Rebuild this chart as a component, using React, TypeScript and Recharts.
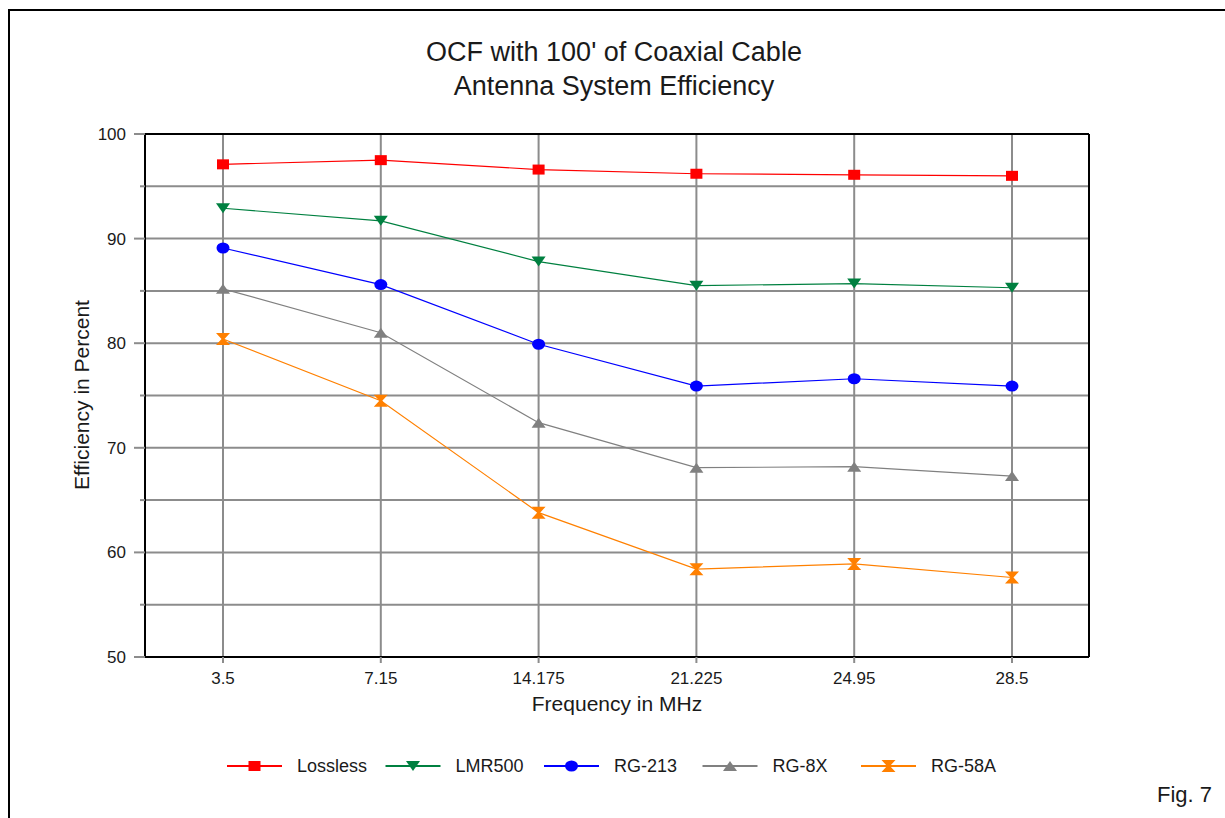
import React from 'react';
import { LineChart, Line, XAxis, YAxis, CartesianGrid } from 'recharts';

const frequencies = ['3.5', '7.15', '14.175', '21.225', '24.95', '28.5'];
const lossless = [97.1, 97.5, 96.6, 96.2, 96.1, 96.0];
const lmr500 = [92.9, 91.7, 87.8, 85.5, 85.7, 85.3];
const rg213 = [89.1, 85.6, 79.9, 75.9, 76.6, 75.9];
const rg8x = [85.2, 81.0, 72.4, 68.1, 68.2, 67.3];
const rg58a = [80.4, 74.5, 63.8, 58.4, 58.9, 57.6];
const yTicks = [50, 55, 60, 65, 70, 75, 80, 85, 90, 95, 100];

const seriesDefs = [
  { key: 'lossless', name: 'Lossless', color: '#ff0000', shape: 'square', values: lossless },
  { key: 'lmr500', name: 'LMR500', color: '#008040', shape: 'triDown', values: lmr500 },
  { key: 'rg213', name: 'RG-213', color: '#0000ff', shape: 'circle', values: rg213 },
  { key: 'rg8x', name: 'RG-8X', color: '#808080', shape: 'triUp', values: rg8x },
  { key: 'rg58a', name: 'RG-58A', color: '#ff8000', shape: 'hourglass', values: rg58a },
];

const data = frequencies.map((f, i) => {
  const row: any = { f };
  seriesDefs.forEach((s) => {
    row[s.key] = s.values[i];
  });
  return row;
});

const FONT = '"Liberation Sans", Arial, sans-serif';
const GRID = '#8c8c8c';
const TXT = '#1a1a1a';

function Marker({ cx, cy, shape, color }: { cx: number; cy: number; shape: string; color: string }) {
  switch (shape) {
    case 'square':
      return <rect x={cx - 6} y={cy - 5} width={12} height={10} fill={color} />;
    case 'triDown':
      return <polygon points={`${cx - 7},${cy - 5} ${cx + 7},${cy - 5} ${cx},${cy + 5}`} fill={color} />;
    case 'circle':
      return <ellipse cx={cx} cy={cy} rx={6.5} ry={5.5} fill={color} />;
    case 'triUp':
      return <polygon points={`${cx - 7},${cy + 5} ${cx + 7},${cy + 5} ${cx},${cy - 5}`} fill={color} />;
    case 'hourglass':
      return (
        <polygon
          points={`${cx - 7},${cy - 6} ${cx + 7},${cy - 6} ${cx + 1.5},${cy} ${cx + 7},${cy + 6} ${cx - 7},${cy + 6} ${cx - 1.5},${cy}`}
          fill={color}
        />
      );
    default:
      return null;
  }
}

const makeDot = (shape: string, color: string) => (props: any) => {
  const { cx, cy, index } = props;
  if (cx == null || cy == null) return <g key={`d-${shape}-${index}`} />;
  return (
    <g key={`d-${shape}-${index}`}>
      <Marker cx={cx} cy={cy} shape={shape} color={color} />
    </g>
  );
};

const YTick = (props: any) => {
  const { x, y, payload } = props;
  const major = payload.value % 10 === 0;
  return (
    <g>
      <line x1={x - (major ? 11 : 5)} x2={x} y1={y} y2={y} stroke={GRID} strokeWidth={2} />
      {major && (
        <text x={x - 19} y={y} dy={6} textAnchor="end" fontSize={17} fontFamily={FONT} fill={TXT}>
          {payload.value}
        </text>
      )}
    </g>
  );
};

const XTick = (props: any) => {
  const { x, y, payload } = props;
  return (
    <g>
      <line x1={x} x2={x} y1={y} y2={y + 6} stroke={GRID} strokeWidth={2} />
      <text x={x} y={y + 27} textAnchor="middle" fontSize={17} fontFamily={FONT} fill={TXT}>
        {payload.value}
      </text>
    </g>
  );
};

export default function App() {
  return (
    <div style={{ position: 'absolute', left: 0, top: 0, width: 1225, height: 818, background: '#fff', overflow: 'hidden', fontFamily: FONT }}>
      <div
        style={{
          position: 'absolute',
          left: 8,
          top: 9,
          width: 1300,
          height: 900,
          borderTop: '2px solid #000',
          borderLeft: '2px solid #000',
        }}
      />
      <div style={{ position: 'absolute', left: 0, top: 0 }}>
        <LineChart width={1225} height={818} data={data} margin={{ top: 124, right: 126, bottom: 141, left: 125 }}>
          <CartesianGrid stroke={GRID} strokeWidth={2} horizontal vertical />
          <XAxis
            dataKey="f"
            height={20}
            padding={{ left: 78, right: 77 }}
            tickSize={0}
            tickMargin={0}
            interval={0}
            tick={<XTick />}
            axisLine={{ stroke: '#000', strokeWidth: 2 }}
            tickLine={false}
          />
          <XAxis
            xAxisId="top"
            orientation="top"
            dataKey="f"
            height={10}
            padding={{ left: 78, right: 77 }}
            tick={false}
            tickLine={false}
            axisLine={{ stroke: '#000', strokeWidth: 2 }}
          />
          <YAxis
            width={20}
            domain={[50, 100]}
            ticks={yTicks}
            interval={0}
            tickSize={0}
            tickMargin={0}
            tick={<YTick />}
            tickLine={false}
            axisLine={{ stroke: '#000', strokeWidth: 2 }}
          />
          <YAxis
            yAxisId="right"
            orientation="right"
            width={10}
            domain={[50, 100]}
            tick={false}
            tickLine={false}
            axisLine={{ stroke: '#000', strokeWidth: 2 }}
          />
          {seriesDefs.map((s) => (
            <Line
              key={s.key}
              type="linear"
              dataKey={s.key}
              name={s.name}
              stroke={s.color}
              strokeWidth={1.2}
              dot={makeDot(s.shape, s.color)}
              activeDot={false}
              isAnimationActive={false}
            />
          ))}
        </LineChart>
      </div>

      <div
        style={{
          position: 'absolute',
          left: 314,
          top: 35,
          width: 600,
          textAlign: 'center',
          fontSize: 27,
          lineHeight: '34px',
          color: TXT,
        }}
      >
        <div>OCF with 100' of Coaxial Cable</div>
        <div>Antenna System Efficiency</div>
      </div>

      <div
        style={{
          position: 'absolute',
          left: 82 - 150,
          top: 395 - 13,
          width: 300,
          height: 26,
          lineHeight: '26px',
          textAlign: 'center',
          fontSize: 21,
          color: TXT,
          transform: 'rotate(-90deg)',
        }}
      >
        Efficiency in Percent
      </div>

      <div
        style={{
          position: 'absolute',
          left: 617 - 150,
          top: 704 - 13,
          width: 300,
          height: 26,
          lineHeight: '26px',
          textAlign: 'center',
          fontSize: 21,
          color: TXT,
        }}
      >
        Frequency in MHz
      </div>

      <svg style={{ position: 'absolute', left: 0, top: 750 }} width={1225} height={32}>
        {seriesDefs.map((s, i) => {
          const x0 = 227 + i * 158.5;
          const cy = 16;
          return (
            <g key={s.key}>
              <line x1={x0} x2={x0 + 55} y1={cy} y2={cy} stroke={s.color} strokeWidth={2} />
              <Marker cx={x0 + 27.5} cy={cy} shape={s.shape} color={s.color} />
              <text x={x0 + 70} y={cy + 6} fontSize={18} fontFamily={FONT} fill={TXT}>
                {s.name}
              </text>
            </g>
          );
        })}
      </svg>

      <div style={{ position: 'absolute', left: 1157, top: 781, fontSize: 22, lineHeight: '28px', color: TXT }}>Fig. 7</div>
    </div>
  );
}
